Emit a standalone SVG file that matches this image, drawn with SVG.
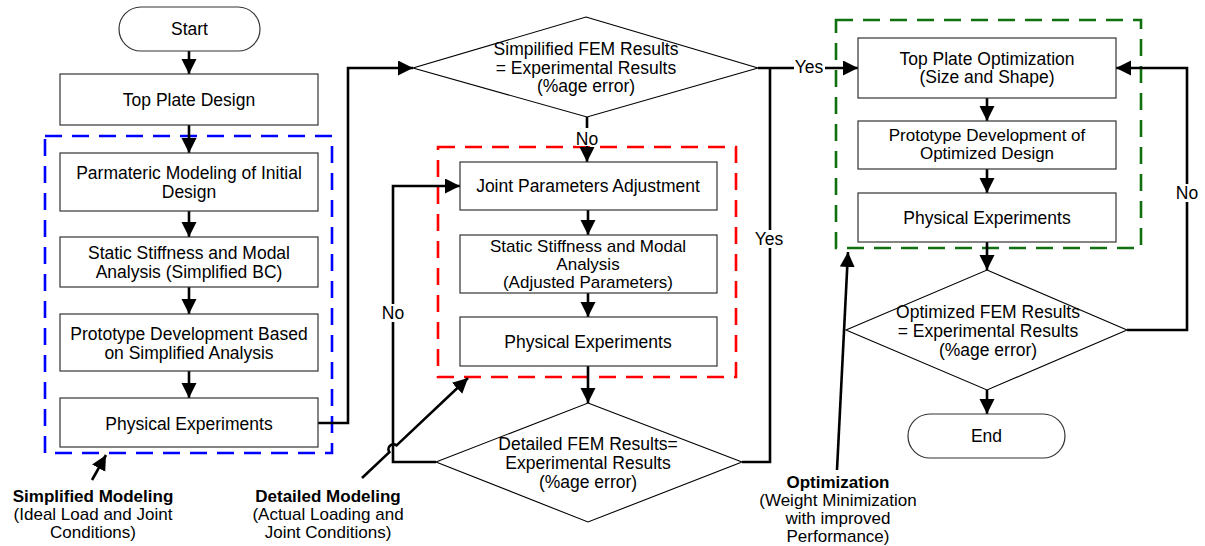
<svg xmlns="http://www.w3.org/2000/svg" width="1205" height="546" viewBox="0 0 1205 546">
<style>
  text { font-family: "Liberation Sans", Arial, sans-serif; font-size: 17.5px; fill: #000; text-anchor: middle; }
  .b { font-weight: bold; }
  .s { font-size: 17px; }
  .box { fill: #fff; stroke: #333; stroke-width: 1.2; }
  .dia { fill: #fff; stroke: #000; stroke-width: 1.1; }
  .conn { fill: none; stroke: #000; stroke-width: 2.6; }
  .grp { fill: none; stroke-width: 2.6; stroke-dasharray: 17 10; }
  .lbg { fill: #fff; stroke: none; }
</style>
<defs>
  <marker id="ah" markerUnits="userSpaceOnUse" markerWidth="16" markerHeight="16" refX="15" refY="7.5" orient="auto">
    <path d="M0,0 L15,7.5 L0,15 z" fill="#000"/>
  </marker>
</defs>
<rect width="1205" height="546" fill="#fff"/>

<g id="groups">
  <rect id="simplified-group" class="grp" x="45" y="136" width="287" height="317" stroke="#0000ff"/>
  <rect id="detailed-group" class="grp" x="438" y="147" width="298" height="230" stroke="#ff0000"/>
  <rect id="optimization-group" class="grp" x="836" y="20" width="305" height="228" stroke="#107010"/>
</g>

<g id="connectors">
  <path class="conn" d="M189,51 V74" marker-end="url(#ah)"/>
  <path class="conn" d="M189,125 V153" marker-end="url(#ah)"/>
  <path class="conn" d="M189,211 V237" marker-end="url(#ah)"/>
  <path class="conn" d="M189,287 V314" marker-end="url(#ah)"/>
  <path class="conn" d="M189,371 V398" marker-end="url(#ah)"/>
  <path class="conn" d="M318,423 H348 V68 H413" marker-end="url(#ah)"/>
  <path class="conn" d="M587,117 V162" marker-end="url(#ah)"/>
  <path class="conn" d="M588,210 V235" marker-end="url(#ah)"/>
  <path class="conn" d="M588,293 V317" marker-end="url(#ah)"/>
  <path class="conn" d="M588,366 V403" marker-end="url(#ah)"/>
  <path class="conn" d="M436,462 H393 V186 H460" marker-end="url(#ah)"/>
  <path class="conn" d="M742,462 H770 V68"/>
  <path class="conn" d="M758,68 H858" marker-end="url(#ah)"/>
  <path class="conn" d="M987,98 V121" marker-end="url(#ah)"/>
  <path class="conn" d="M987,169 V193" marker-end="url(#ah)"/>
  <path class="conn" d="M987,242 V270" marker-end="url(#ah)"/>
  <path class="conn" d="M987,390 V414" marker-end="url(#ah)"/>
  <path class="conn" d="M1127,330 H1187 V68 H1116" marker-end="url(#ah)"/>
  <!-- annotation pointers -->
  <path class="conn" d="M92,480 L106,455" marker-end="url(#ah)"/>
  <path class="conn" d="M362,478 L389.4,452.2 A5,5 0 0 1 396.6,445.4 L468,378" marker-end="url(#ah)"/>
  <path class="conn" d="M837,470 L848,252" marker-end="url(#ah)"/>
  <!-- connector labels -->
  <rect class="lbg" x="576" y="128" width="24" height="18"/>
  <text x="587" y="145">No</text>
  <rect class="lbg" x="381" y="304" width="24" height="18"/>
  <text x="393" y="319">No</text>
  <rect class="lbg" x="754" y="230" width="32" height="18"/>
  <text x="769" y="245">Yes</text>
  <rect class="lbg" x="794" y="58" width="31" height="18"/>
  <text x="809" y="73">Yes</text>
  <rect class="lbg" x="1175" y="184" width="24" height="18"/>
  <text x="1187" y="199">No</text>
</g>

<g id="start">
  <rect class="box" x="119" y="7" width="141" height="44" rx="22" ry="22"/>
  <text x="189.5" y="35">Start</text>
</g>
<g id="top-plate-design">
  <rect class="box" x="60" y="74" width="258" height="51"/>
  <text x="189" y="106">Top Plate Design</text>
</g>
<g id="parametric-modeling">
  <rect class="box" x="60" y="153" width="258" height="58"/>
  <text x="189" y="179">Parmateric Modeling of Initial</text>
  <text x="189" y="198">Design</text>
</g>
<g id="static-simplified">
  <rect class="box" x="60" y="237" width="258" height="50"/>
  <text x="189" y="259">Static Stiffness and Modal</text>
  <text x="189" y="278">Analysis (Simplified BC)</text>
</g>
<g id="prototype-simplified">
  <rect class="box" x="60" y="314" width="258" height="57"/>
  <text x="189" y="340">Prototype Development Based</text>
  <text x="189" y="359">on Simplified Analysis</text>
</g>
<g id="physical-1">
  <rect class="box" x="60" y="398" width="258" height="49"/>
  <text x="189" y="430">Physical Experiments</text>
</g>

<g id="decision-simplified">
  <polygon class="dia" points="586,17 758,68 587,117 413,68"/>
  <text x="586" y="55">Simpilified FEM Results</text>
  <text x="586" y="74">= Experimental Results</text>
  <text x="586" y="92">(%age error)</text>
</g>
<g id="joint-adjustment">
  <rect class="box" x="460" y="162" width="257" height="48"/>
  <text x="588" y="192">Joint Parameters Adjustment</text>
</g>
<g id="static-adjusted">
  <rect class="box" x="460" y="235" width="257" height="58"/>
  <text class="s" x="588" y="252">Static Stiffness and Modal</text>
  <text class="s" x="588" y="270">Analysis</text>
  <text class="s" x="588" y="288">(Adjusted Parameters)</text>
</g>
<g id="physical-2">
  <rect class="box" x="460" y="317" width="257" height="49"/>
  <text x="588" y="348">Physical Experiments</text>
</g>
<g id="decision-detailed">
  <polygon class="dia" points="588,403 742,462 588,522 436,462"/>
  <text x="588" y="450">Detailed FEM Results=</text>
  <text x="588" y="469">Experimental Results</text>
  <text x="588" y="488">(%age error)</text>
</g>

<g id="top-plate-optimization">
  <rect class="box" x="858" y="38" width="258" height="60"/>
  <text x="987" y="65">Top Plate Optimization</text>
  <text x="987" y="83">(Size and Shape)</text>
</g>
<g id="prototype-optimized">
  <rect class="box" x="858" y="121" width="258" height="48"/>
  <text class="s" x="987" y="141">Prototype Development of</text>
  <text class="s" x="987" y="159">Optimized Design</text>
</g>
<g id="physical-3">
  <rect class="box" x="858" y="193" width="258" height="49"/>
  <text x="987" y="224">Physical Experiments</text>
</g>
<g id="decision-optimized">
  <polygon class="dia" points="987,270 1127,330 987,390 846,330"/>
  <text x="988" y="318">Optimized FEM Results</text>
  <text x="988" y="337">= Experimental Results</text>
  <text x="988" y="356">(%age error)</text>
</g>
<g id="end">
  <rect class="box" x="908" y="414" width="157" height="44" rx="22" ry="22"/>
  <text x="986.5" y="442">End</text>
</g>

<g id="label-simplified">
  <text class="b s" x="93" y="502">Simplified Modeling</text>
  <text class="s" x="93" y="520">(Ideal Load and Joint</text>
  <text class="s" x="93" y="538">Conditions)</text>
</g>
<g id="label-detailed">
  <text class="b s" x="328" y="502">Detailed Modeling</text>
  <text class="s" x="328" y="520">(Actual Loading and</text>
  <text class="s" x="328" y="538">Joint Conditions)</text>
</g>
<g id="label-optimization">
  <text class="b s" x="838" y="488">Optimization</text>
  <text class="s" x="838" y="506">(Weight Minimization</text>
  <text class="s" x="838" y="524">with improved</text>
  <text class="s" x="838" y="542">Performance)</text>
</g>
</svg>
